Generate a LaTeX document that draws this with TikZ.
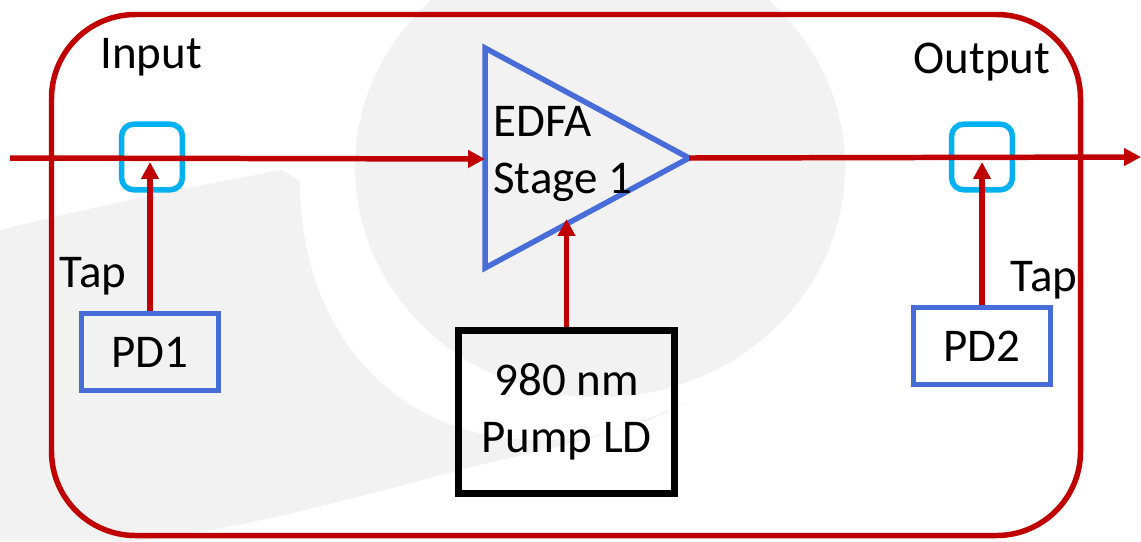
\documentclass[tikz,border=0pt]{standalone}
\usepackage{fontspec}
\setmainfont{Carlito}
\usetikzlibrary{arrows.meta, positioning}
\definecolor{mydarkred1}{RGB}{192, 0, 0}
\definecolor{myblue1}{RGB}{72, 108, 216}
\definecolor{mycyan1}{RGB}{0, 176, 240}
\definecolor{mylightgray1}{RGB}{242, 242, 242}

\begin{document}
\begin{tikzpicture}[x=0.025cm, y=-0.025cm, font=\fontsize{33.4}{40.4}\selectfont,
  fiber/.style={draw=mydarkred1, line width=3.9pt, -{Triangle[length=0.42cm, width=0.42cm]}},
  pdbox/.style={draw=myblue1, line width=3.9pt, minimum width=3.43cm, minimum height=1.93cm, inner sep=0},
  tapbox/.style={draw=mycyan1, line width=3.9pt, rounded corners=0.3cm, minimum width=1.52cm, minimum height=1.64cm, inner sep=0},
  textlabel/.style={inner sep=0}]
\useasboundingbox (0,0) rectangle (1141,541);
\fill[white] (0,0) rectangle (1141,541);

% --- Watermark ---
\fill[mylightgray1] (600,167) ellipse [x radius=6.125cm, y radius=5.75cm];
\fill[mylightgray1] (0,230) .. controls (100,205) and (200,185) .. (282,170) -- (300,181)
  .. controls (300,320) and (380,420) .. (500,437) .. controls (580,448) and (650,425) .. (690,400)
  .. controls (630,430) and (570,445) .. (500,460) .. controls (380,490) and (250,530) .. (133,541)
  -- (0,541) -- cycle;

% --- Module frame ---
\draw[mydarkred1, line width=3.9pt, rounded corners=2.1cm] (51.5,14.5) rectangle (1080.5,535.5);

% --- Taps and detectors ---
\node[tapbox] (tapin) at (152,157) {};
\node[tapbox] (tapout) at (982,157) {};
\node[pdbox] (pd1) at (150,352) {PD1};
\node[pdbox] (pd2) at (982,346) {PD2};
\node[textlabel] (inlbl) at (151,57) {Input};
\node[textlabel] (outlbl) at (982,62) {Output};
\node[textlabel] (tap1lbl) at (93,276) {Tap};
\node[textlabel] (tap2lbl) at (1044,280) {Tap};

% --- Amplifier ---
\coordinate (ampin) at (485,159);
\coordinate (ampout) at (689,158);
\draw[myblue1, line width=3.9pt] (485,48) -- (ampout) -- (485,268) -- cycle;
\node[textlabel, anchor=west, align=left] (edfa) at (493,154) {EDFA\\Stage 1};

% --- Pump ---
\node[draw=black, line width=4.5pt, minimum width=5.4cm, minimum height=4.08cm, align=center, inner sep=0] (pump) at (566.5,412) {980 nm\\Pump LD};
\coordinate (pumpin) at (566.5,219);

% --- Arrows ---
\coordinate (src) at (10,158);
\coordinate (sink) at (1141,157);
\coordinate (tap1) at (150,162);
\coordinate (tap2) at (982,162);
\draw[fiber] (src) -- (ampin);
\draw[fiber] (ampout) -- (sink);
\draw[fiber] (pump) -- (pumpin);
\draw[fiber] (pd1) -- (tap1);
\draw[fiber] (pd2) -- (tap2);
\end{tikzpicture}
\end{document}
